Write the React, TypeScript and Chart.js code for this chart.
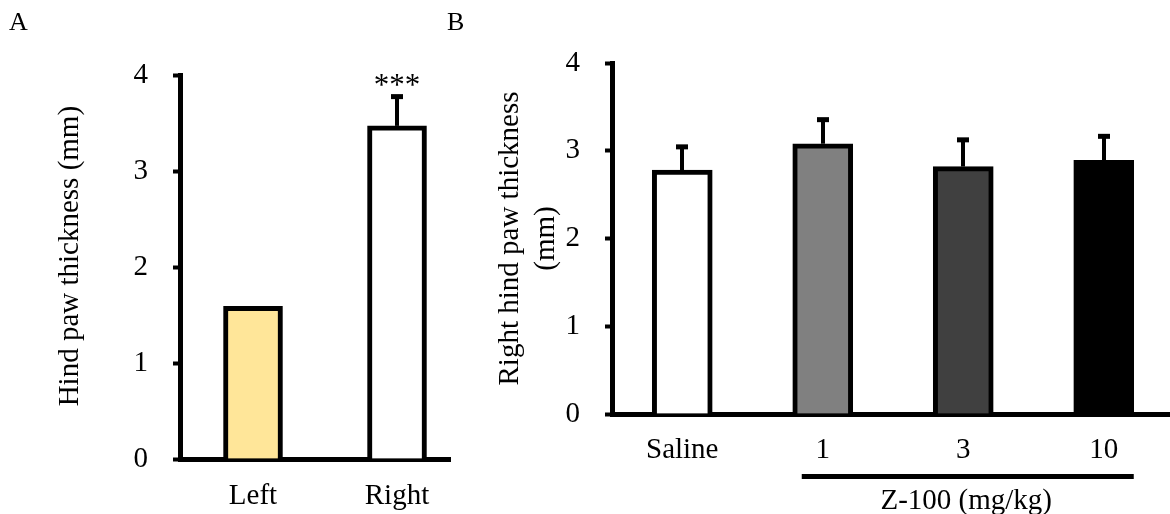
import React, { useEffect, useRef } from 'react';
import { Chart, registerables } from 'chart.js';

Chart.register(...registerables);

// ---------- Data ----------
const panelALabels = ['Left', 'Right'];
const panelAValues = [1.59, 3.47];
const panelAErrors = [0, 0.31];
const panelAColors = ['#FFE699', '#FFFFFF'];
const panelASignificance = ['', '***'];

const panelBLabels = ['Saline', '1', '3', '10'];
const panelBValues = [2.78, 3.08, 2.82, 2.89];
const panelBErrors = [0.27, 0.28, 0.31, 0.28];
const panelBColors = ['#FFFFFF', '#808080', '#404040', '#000000'];
const panelBBracketLabel = 'Z-100 (mg/kg)';
const panelBBracketFrom = 1;
const panelBBracketTo = 3;

const yTickValues = [0, 1, 2, 3, 4];
const yMin = 0;
const yMax = 4;

const FAMILY = "'Liberation Serif', 'Times New Roman', serif";
const FONT_SIZE = 29;

function errorBarPlugin(id: string, values: number[], errors: number[], marks?: string[]) {
  return {
    id,
    afterDatasetsDraw(chart: any) {
      const ctx = chart.ctx;
      const meta = chart.getDatasetMeta(0);
      const y = chart.scales.y;
      ctx.save();
      ctx.fillStyle = '#000';
      meta.data.forEach((bar: any, i: number) => {
        const err = errors[i];
        const top = y.getPixelForValue(values[i] + err);
        if (err > 0) {
          ctx.fillRect(Math.round(bar.x) - 2, top, 4, bar.y - top);
          ctx.fillRect(Math.round(bar.x) - 6, top - 2, 12, 5);
        }
        if (marks && marks[i]) {
          ctx.font = `31px ${FAMILY}`;
          ctx.textAlign = 'center';
          ctx.textBaseline = 'alphabetic';
          ctx.fillText(marks[i], bar.x, top - 1);
        }
      });
      ctx.restore();
    },
  };
}

function panelLetterPlugin(id: string, letter: string, x: number, y: number) {
  return {
    id,
    afterDraw(chart: any) {
      const ctx = chart.ctx;
      ctx.save();
      ctx.fillStyle = '#000';
      ctx.font = `26px ${FAMILY}`;
      ctx.textAlign = 'left';
      ctx.textBaseline = 'alphabetic';
      ctx.fillText(letter, x, y);
      ctx.restore();
    },
  };
}

const bracketPlugin = {
  id: 'bracketB',
  afterDraw(chart: any) {
    const ctx = chart.ctx;
    const xs = chart.scales.x;
    const bottom = chart.chartArea.bottom;
    const x1 = xs.getPixelForValue(panelBBracketFrom);
    const x2 = xs.getPixelForValue(panelBBracketTo);
    ctx.save();
    ctx.fillStyle = '#000';
    ctx.fillRect(x1 - 21, bottom + 60, x2 - x1 + 51, 5);
    ctx.font = `${FONT_SIZE}px ${FAMILY}`;
    ctx.textAlign = 'center';
    ctx.textBaseline = 'alphabetic';
    ctx.fillText(panelBBracketLabel, (x1 + x2) / 2 + 3, bottom + 95);
    ctx.restore();
  },
};

function yAxis(title: string | string[], width: number, titlePad: number, lineHeight: number) {
  return {
    min: yMin,
    max: yMax,
    afterBuildTicks: (s: any) => {
      s.ticks = yTickValues.map((v) => ({ value: v }));
    },
    ticks: {
      font: { family: FAMILY, size: FONT_SIZE },
      color: '#000',
      padding: 25,
    },
    grid: {
      display: true,
      drawOnChartArea: false,
      drawTicks: true,
      tickLength: 7,
      tickWidth: 4,
      tickColor: '#000',
      color: '#000',
    },
    border: { display: true, color: '#000', width: 5 },
    title: {
      display: true,
      text: title,
      color: '#000',
      font: { family: FAMILY, size: FONT_SIZE, lineHeight },
      padding: { top: titlePad, bottom: 0 },
    },
    afterFit: (s: any) => {
      s.width = width;
    },
  };
}

export default function App() {
  const refA = useRef<HTMLCanvasElement>(null);
  const refB = useRef<HTMLCanvasElement>(null);

  useEffect(() => {
    Chart.defaults.color = '#000';
    const chartA = new Chart(refA.current as HTMLCanvasElement, {
      type: 'bar',
      data: {
        datasets: [
          {
            data: panelAValues.map((v, i) => ({ x: i, y: v })),
            backgroundColor: panelAColors,
            borderColor: '#000',
            borderWidth: 5,
            barThickness: 59,
            borderSkipped: 'start',
          },
        ],
      },
      options: {
        responsive: false,
        animation: false,
        events: [],
        layout: { padding: { top: 75, right: 10, left: 0, bottom: 0 } },
        plugins: { legend: { display: false }, tooltip: { enabled: false } },
        scales: {
          x: {
            type: 'linear',
            offset: false,
            bounds: 'data',
            min: -0.507,
            max: 1.368,
            afterBuildTicks: (s: any) => {
              s.ticks = panelALabels.map((_, i) => ({ value: i }));
            },
            ticks: {
              callback: (_v: any, i: number) => panelALabels[i],
              font: { family: FAMILY, size: FONT_SIZE },
              color: '#000',
              padding: 12,
              autoSkip: false,
              maxRotation: 0,
            },
            grid: { display: false, offset: false },
            border: { display: true, color: '#000', width: 5 },
            afterFit: (s: any) => {
              s.height = 55;
            },
          },
          y: yAxis('   Hind paw thickness (mm)', 180, 53, 1.2),
        },
      } as any,
      plugins: [
        errorBarPlugin('errA', panelAValues, panelAErrors, panelASignificance),
        panelLetterPlugin('letterA', 'A', 9, 30),
      ],
    });

    const chartB = new Chart(refB.current as HTMLCanvasElement, {
      type: 'bar',
      data: {
        labels: panelBLabels,
        datasets: [
          {
            data: panelBValues,
            backgroundColor: panelBColors,
            borderColor: '#000',
            borderWidth: 5,
            barThickness: 60,
            borderSkipped: 'start',
          },
        ],
      },
      options: {
        responsive: false,
        animation: false,
        events: [],
        layout: { padding: { top: 63, right: 0, left: 0, bottom: 0 } },
        plugins: { legend: { display: false }, tooltip: { enabled: false } },
        scales: {
          x: {
            type: 'category',
            offset: true,
            ticks: {
              font: { family: FAMILY, size: FONT_SIZE },
              color: '#000',
              padding: 11,
              autoSkip: false,
              maxRotation: 0,
            },
            grid: { display: false },
            border: { display: true, color: '#000', width: 5 },
            afterFit: (s: any) => {
              s.height = 100;
            },
          },
          y: yAxis(['Right hind paw thickness', '(mm)'], 172, 52, 36 / 29),
        },
      } as any,
      plugins: [
        errorBarPlugin('errB', panelBValues, panelBErrors),
        bracketPlugin,
        panelLetterPlugin('letterB', 'B', 7, 30),
      ],
    });

    return () => {
      chartA.destroy();
      chartB.destroy();
    };
  }, []);

  return (
    <div
      style={{
        position: 'absolute',
        left: 0,
        top: 0,
        width: 1170,
        height: 514,
        overflow: 'hidden',
        background: '#fff',
      }}
    >
      <canvas
        ref={refA}
        width={460}
        height={514}
        style={{ position: 'absolute', left: 0, top: 0, width: 460, height: 514 }}
      />
      <canvas
        ref={refB}
        width={734}
        height={514}
        style={{ position: 'absolute', left: 440, top: 0, width: 734, height: 514 }}
      />
    </div>
  );
}
